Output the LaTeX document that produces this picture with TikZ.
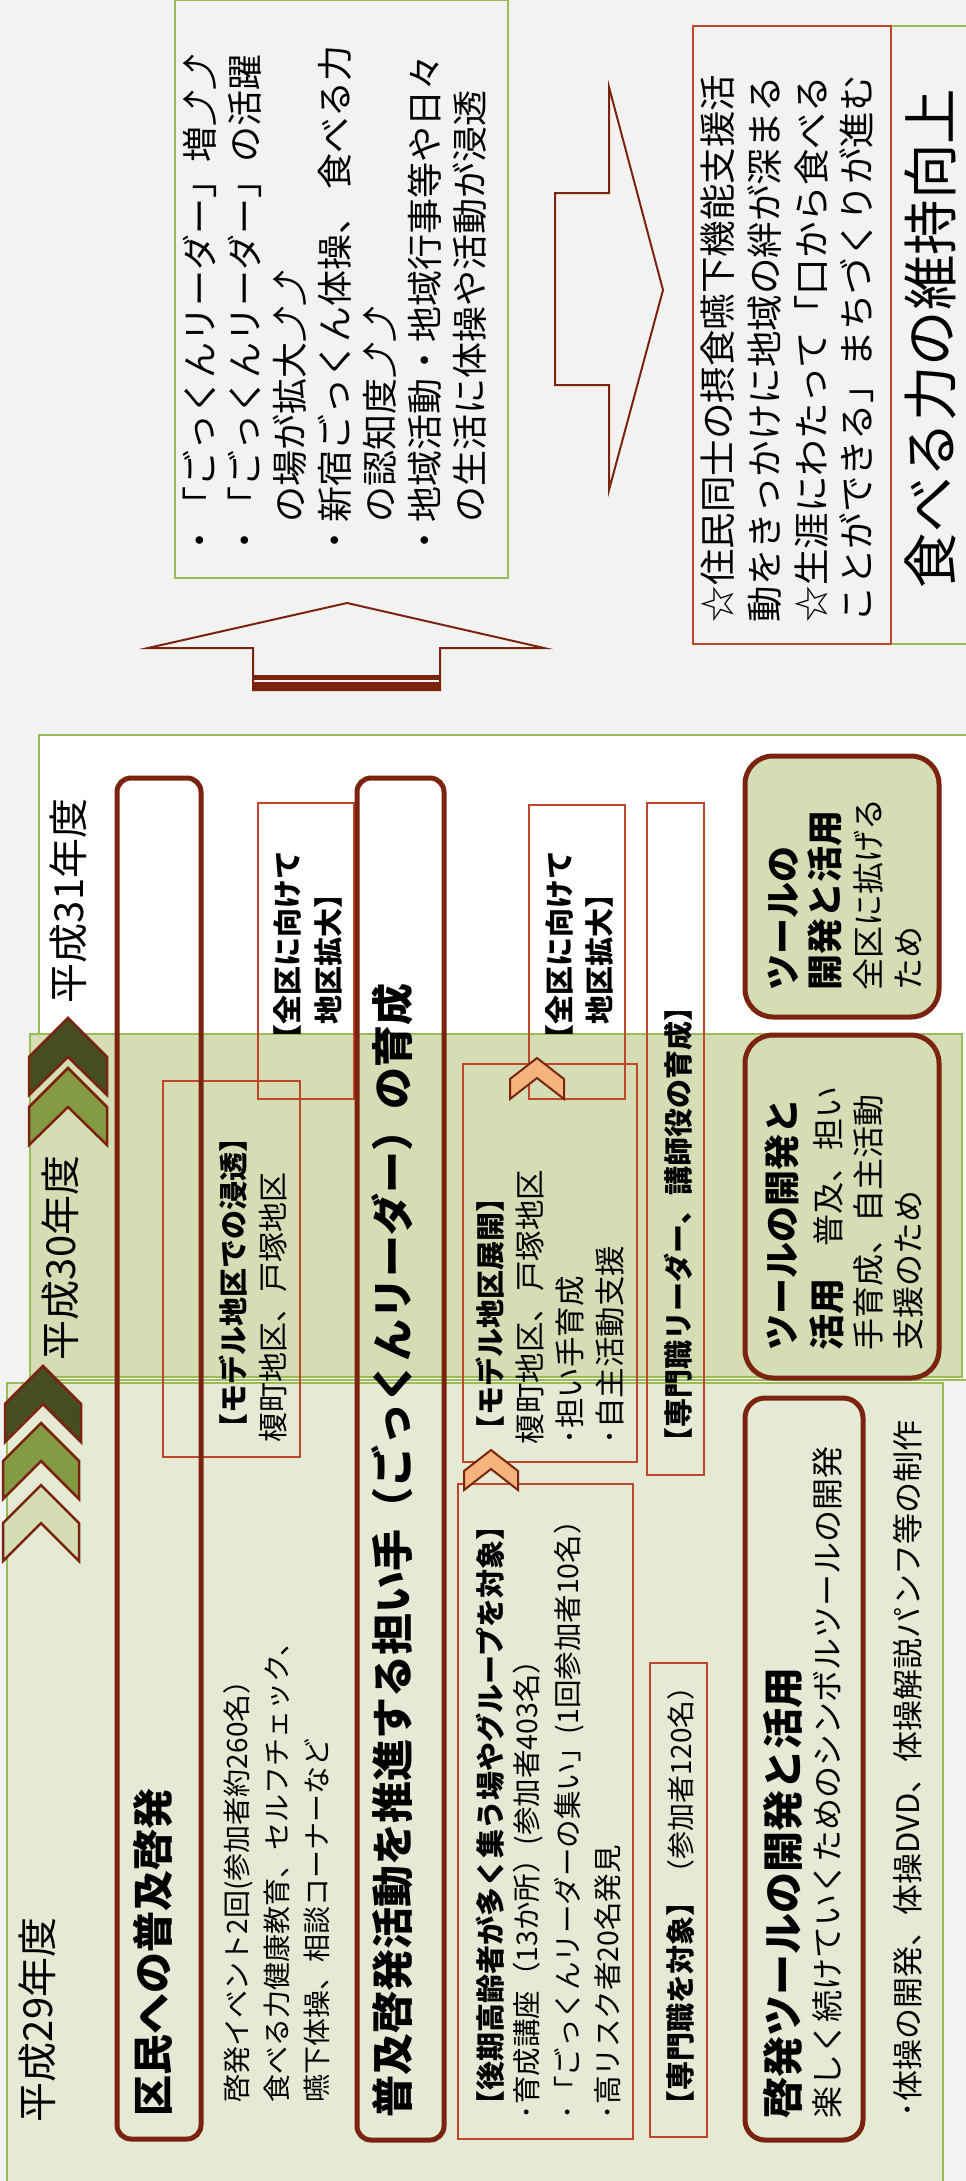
\documentclass[tikz,border=0pt]{standalone}
\usepackage{fontspec}
\setmainfont{Noto Sans CJK JP}
\usetikzlibrary{fit}
\newcommand\fsz[1]{\fontsize{#1}{#1}\selectfont}
\definecolor{bgc}{HTML}{F2F2F2}
\definecolor{olive}{HTML}{9BBB59}
\definecolor{gthirty}{HTML}{D4DDB3}
\definecolor{gtwentynine}{HTML}{E4EAD3}
\definecolor{dred}{HTML}{7A2410}
\definecolor{rline}{HTML}{C0462B}
\definecolor{chdark}{HTML}{444E22}
\definecolor{chmid}{HTML}{849B43}
\definecolor{chorange}{HTML}{F4B47C}
\begin{document}
\begin{tikzpicture}[x=1pt,y=-1pt,
  t/.style={rotate=90, anchor=base west, inner sep=0pt, outer sep=0pt},
  tc/.style={rotate=90, anchor=base, inner sep=0pt, outer sep=0pt},
  fbox/.style={inner sep=0pt, outer sep=0pt},
  olivebox/.style={fbox, draw=olive, line width=2pt},
  redbox/.style={fbox, draw=rline, line width=1.6pt},
  tallbox/.style={fbox, draw=dred, line width=5pt, rounded corners=14pt},
  toolbox/.style={fbox, draw=dred, line width=5pt, rounded corners=28pt},
  chev/.style={draw=dred, line width=2.5pt, line join=miter},
  arrowshape/.style={draw=dred, line width=2pt, line join=miter}
]
\useasboundingbox (0,0) rectangle (966,2181);
\fill[bgc] (0,0) rectangle (966,2181);

% ---------- top section ----------
\node[olivebox, fit={(175,0)(508,578)}] (bulletbox) {};
\node[olivebox, fit={(891,26)(995,644)}] (goal) {};
\node[redbox, fit={(693,26)(891,644)}] (effect) {};

\draw[arrowshape] (555,193) -- (609,193) -- (609,87) -- (663,290) -- (609,490) -- (609,385) -- (555,385) -- cycle;
\draw[arrowshape] (148,648) -- (347,603) -- (544,648) -- (440,648) -- (440,690) -- (253,690) -- (253,648) -- cycle;
\fill[dred] (253,675) rectangle (440,680);
\fill[dred] (253,682) rectangle (440,690);

% ---------- year areas ----------
\node[olivebox, fill=white, fit={(39,735)(995,1380)}] (y31) {};
\node[olivebox, fill=gthirty, fit={(30,1034)(962,1377)}] (y30) {};
\node[olivebox, fill=gtwentynine, fit={(7,1383)(943,2200)}] (y29) {};

% year chevrons
\draw[chev, fill=chdark] (68,1018) -- (107,1057) -- (107,1095) -- (68,1057) -- (29,1095) -- (29,1057) -- cycle;
\draw[chev, fill=chmid] (68,1068) -- (107,1107) -- (107,1145) -- (68,1107) -- (29,1145) -- (29,1107) -- cycle;
\draw[chev, fill=chdark] (43,1366) -- (81,1404) -- (81,1442) -- (43,1404) -- (5,1442) -- (5,1404) -- cycle;
\draw[chev, fill=chmid] (41,1423) -- (79,1461) -- (79,1499) -- (41,1461) -- (3,1499) -- (3,1461) -- cycle;
\draw[chev, fill=gthirty] (41,1485) -- (79,1523) -- (79,1561) -- (41,1523) -- (3,1561) -- (3,1523) -- cycle;

% thin red boxes
\node[redbox, fit={(163,1081)(300,1457)}] (m1) {};
\node[redbox, fit={(258,803)(354,1099)}] (z1) {};
\node[redbox, fit={(529,805)(625,1099)}] (z2) {};
\node[redbox, fit={(463,1064)(637,1462)}] (m2) {};
\node[redbox, fit={(458,1484)(633,2139)}] (k) {};
\node[redbox, fit={(647,803)(704,1475)}] (s1) {};
\node[redbox, fit={(650,1663)(707,2137)}] (s2) {};

% tall rounded columns
\node[tallbox, fit={(117,778)(201,2139)}] (colA) {};
\node[tallbox, fit={(357,778)(444,2140)}] (colB) {};

% tool boxes
\node[toolbox, fill=gthirty, fit={(745,756)(939,1017)}] (tool31) {};
\node[toolbox, fill=gthirty, fit={(745,1035)(939,1378)}] (tool30) {};
\node[toolbox, rounded corners=20pt, fit={(745,1398)(863,2140)}] (tool29) {};

% orange chevrons
\draw[chev, line width=2pt, fill=chorange] (537,1058) -- (564,1079) -- (564,1099) -- (537,1078) -- (510,1099) -- (510,1079) -- cycle;
\draw[chev, line width=2pt, fill=chorange] (491,1450) -- (518,1471) -- (518,1490) -- (491,1469) -- (464,1490) -- (464,1471) -- cycle;

% ---------- texts ----------
\node[t] (bl1) at (213.7,558) {\fsz{36}・「ごっくんリーダー」増⤴⤴};
\node[t] (bl2) at (258.7,558) {\fsz{36}・「ごっくんリーダー」の活躍};
\node[t] (bl3) at (303.7,522) {\fsz{36}の場が拡大⤴⤴};
\node[t] (bl4) at (348.7,558) {\fsz{36}・新宿ごっくん体操、\ 食べる力};
\node[t] (bl5) at (393.7,522) {\fsz{36}の認知度⤴⤴};
\node[t] (bl6) at (438.7,558) {\fsz{36}・地域活動・地域行事等や日々};
\node[t] (bl7) at (483.7,522) {\fsz{36}の生活に体操や活動が浸透};

\node[t] (ef1) at (731.9,622) {\fsz{36.5}☆住民同士の摂食嚥下機能支援活};
\node[t] (ef2) at (778.9,622) {\fsz{36.5}動をきっかけに地域の絆が深まる};
\node[t] (ef3) at (825.9,622) {\fsz{36.5}☆生涯にわたって「口から食べる};
\node[t] (ef4) at (870.9,622) {\fsz{36.5}ことができる」まちづくりが進む};

\node[t] (goaltext) at (951,588) {\fsz{55.5}食べる力の維持向上};

\node[t] (yl31) at (83.2,1003) {\fsz{40}平成31年度};
\node[t] (yl30) at (75.2,1360) {\fsz{40}平成30年度};
\node[t] (yl29) at (52.2,2122) {\fsz{40}平成29年度};

\node[t] (atitle) at (168.6,2116) {\bfseries\fsz{41}区民への普及啓発};
\node[t] (a1) at (247.6,2102) {\fsz{28}啓発イベント2回(参加者約260名）};
\node[t] (a2) at (287.6,2102) {\fsz{28}食べる力健康教育、セルフチェック、};
\node[t] (a3) at (327.6,2102) {\fsz{28}嚥下体操、相談コーナーなど};

\node[t] (btitle) at (408,2117) {\bfseries\fsz{42}普及啓発活動を推進する担い手（ごっくんリーダー）の育成};

\node[t] (m1a) at (244,1442) {\bfseries\fsz{29}【モデル地区での浸透】};
\node[t] (m1b) at (284.4,1442) {\fsz{30}榎町地区、戸塚地区};

\node[tc] (z1a) at (298,952) {\bfseries\fsz{29}【全区に向けて};
\node[tc] (z1b) at (339,952) {\bfseries\fsz{29}地区拡大】};
\node[tc] (z2a) at (570,952) {\bfseries\fsz{29}【全区に向けて};
\node[tc] (z2b) at (610,952) {\bfseries\fsz{29}地区拡大】};

\node[t] (m2a) at (501,1444) {\bfseries\fsz{29}【モデル地区展開】};
\node[t] (m2b) at (541.6,1444) {\fsz{30.5}榎町地区、戸塚地区};
\node[t] (m2c) at (581.6,1444) {\fsz{30.5}･担い手育成};
\node[t] (m2d) at (621.6,1444) {\fsz{30.5}･自主活動支援};

\node[t] (k1) at (501,2119) {\bfseries\fsz{29}【後期高齢者が多く集う場やグループを対象】};
\node[t] (k2) at (537.8,2119) {\fsz{28.5}･育成講座（13か所）(参加者403名）};
\node[t] (k3) at (578.8,2119) {\fsz{28.5}･「ごっくんリーダーの集い」(1回参加者10名）};
\node[t] (k4) at (618.8,2119) {\fsz{28.5}･高リスク者20名発見};

\node[t] (s1t) at (689,1456) {\bfseries\fsz{29}【専門職リーダー、講師役の育成】};
\node[t] (s2t) at (691,2119) {{\bfseries\fsz{29}【専門職を対象】}\fsz{28}（参加者120名）};

\node[t] (t31a) at (796.7,990) {\bfseries\fsz{36}ツールの};
\node[t] (t31b) at (838.7,990) {\bfseries\fsz{36}開発と活用};
\node[t] (t31c) at (880.2,990) {\fsz{32}全区に拡げる};
\node[t] (t31d) at (920.2,990) {\fsz{32}ため};

\node[t] (t30a) at (795.7,1350) {\bfseries\fsz{36}ツールの開発と};
\node[t] (t30b) at (840,1350) {{\bfseries\fsz{36}活用}\fsz{32}　普及、担い};
\node[t] (t30c) at (880.2,1350) {\fsz{32}手育成、自主活動};
\node[t] (t30d) at (920.2,1350) {\fsz{32}支援のため};

\node[t] (t29a) at (798.6,2118) {\bfseries\fsz{41}啓発ツールの開発と活用};
\node[t] (t29b) at (839.2,2118) {\fsz{32}楽しく続けていくためのシンボルツールの開発};
\node[t] (t29c) at (919.8,2117) {\fsz{31}･体操の開発、体操DVD、体操解説パンフ等の制作};
\end{tikzpicture}
\end{document}
